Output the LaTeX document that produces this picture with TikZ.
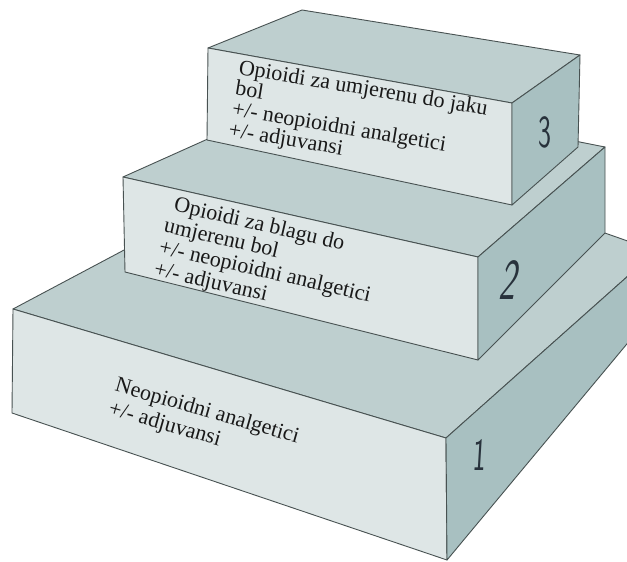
\documentclass[tikz,border=0pt]{standalone}
\usepackage{fontspec}
\setmainfont{Liberation Serif}
\definecolor{frontc}{RGB}{222,230,230}
\definecolor{topc}{RGB}{190,207,207}
\definecolor{sidec}{RGB}{168,192,193}
\definecolor{edgec}{RGB}{72,82,82}
\definecolor{txtc}{RGB}{25,25,25}
\definecolor{numc}{RGB}{40,50,60}
\begin{document}
\begin{tikzpicture}[x=1pt,y=-1pt]
\tikzset{
  face/.style={draw=edgec, line width=0.9pt, line join=round},
  frontf/.style={face, fill=frontc},
  topf/.style={face, fill=topc},
  sidef/.style={face, fill=sidec},
  lbl/.style={anchor=base west, inner sep=0pt, align=left, text=txtc},
  num/.style={inner sep=0pt, font=\sffamily\fontsize{46}{46}\selectfont,
              text=numc, xscale=0.6}
}
\useasboundingbox (0,0) rectangle (627,562);
\fill[white] (0,0) rectangle (627,562);
\clip (0,0) rectangle (627,562);

% ---- box 1 (bottom)
\coordinate (a1) at (13,309);
\coordinate (b1) at (12,413);
\coordinate (c1) at (446,438);
\coordinate (d1) at (447,560);
\coordinate (e1) at (335,138);
\coordinate (f1) at (656,251);
\coordinate (g1) at (656,309);
\draw[topf]   (a1) -- (e1) -- (f1) -- (c1) -- cycle;
\draw[frontf] (a1) -- (c1) -- (d1) -- (b1) -- cycle;
\draw[sidef]  (c1) -- (f1) -- (g1) -- (d1) -- cycle;

% ---- box 2 (middle)
\coordinate (a2) at (123,177);
\coordinate (b2) at (125,272);
\coordinate (c2) at (478,257);
\coordinate (d2) at (478,360);
\coordinate (e2) at (317,90);
\coordinate (f2) at (605,147);
\coordinate (g2) at (605,233);
\draw[topf]   (a2) -- (e2) -- (f2) -- (c2) -- cycle;
\draw[frontf] (a2) -- (c2) -- (d2) -- (b2) -- cycle;
\draw[sidef]  (c2) -- (f2) -- (g2) -- (d2) -- cycle;

% ---- box 3 (top)
\coordinate (a3) at (208,48);
\coordinate (b3) at (207,140);
\coordinate (c3) at (512,103);
\coordinate (d3) at (512,205);
\coordinate (e3) at (302,10);
\coordinate (f3) at (580,55);
\coordinate (g3) at (578,147);
\draw[topf]   (a3) -- (e3) -- (f3) -- (c3) -- cycle;
\draw[frontf] (a3) -- (c3) -- (d3) -- (b3) -- cycle;
\draw[sidef]  (c3) -- (f3) -- (g3) -- (d3) -- cycle;

% ---- texts (anchor = baseline of the last line)
\node[lbl, rotate=-9.5, font=\fontsize{22}{21}\selectfont] (t3) at (227.6,136.1)
  {Opioidi za umjerenu do jaku\\bol\\+/- neopioidni analgetici\\+/- adjuvansi};
\node[lbl, rotate=-13, font=\fontsize{22}{22.3}\selectfont] (t2) at (153,275)
  {\hspace{5pt}Opioidi za blagu do\\umjerenu bol\\+/- neopioidni analgetici\\+/- adjuvansi};
\node[lbl, rotate=-16, font=\fontsize{22}{24}\selectfont] (t1) at (107.4,414)
  {Neopioidni analgetici\\+/- adjuvansi};

% ---- step numbers
\node[num] (n3) at (545,132) {3};
\node[num, xslant=0.35, font=\sffamily\fontsize{58}{58}\selectfont] (n2) at (511,280) {2};
\node[num, xslant=0.1] (n1) at (480,455) {1};
\end{tikzpicture}
\end{document}
